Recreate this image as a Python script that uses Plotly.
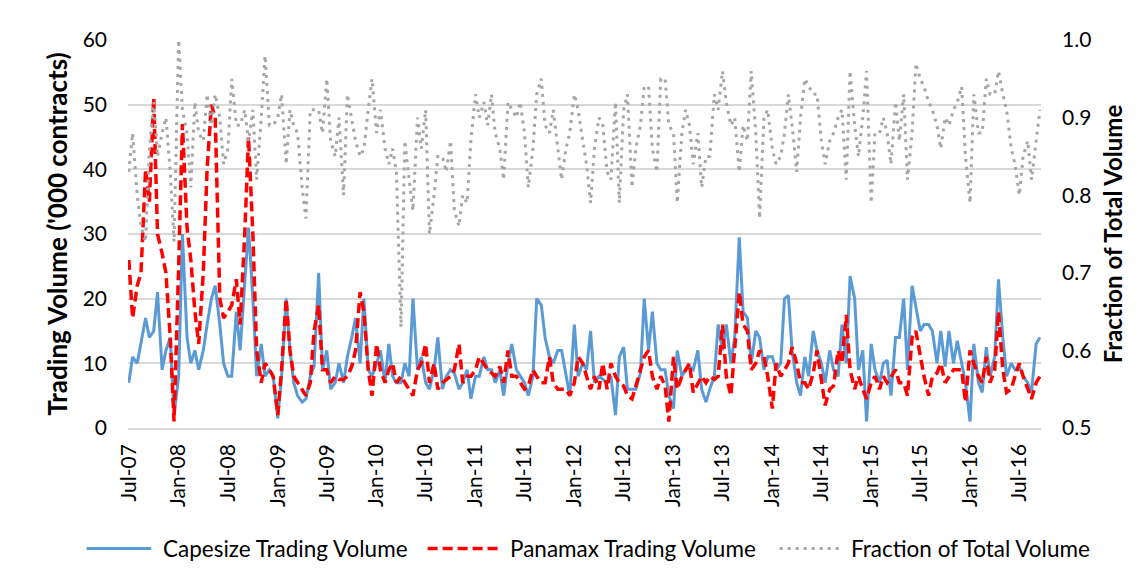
import pandas as pd
import plotly.graph_objects as go

# Semi-monthly observation dates, Jul 2007 - Sep 2016
dates = pd.date_range("2007-07-01", periods=222, freq="SMS")

capesize = [
    7, 11, 10, 13, 17, 14, 15, 21, 9, 12, 14, 2, 8, 30, 14, 10, 12, 9, 12, 16,
    20, 22, 16, 10, 8, 8, 18, 12, 22, 31, 20, 8, 13, 8, 9, 8, 1.5, 8, 20, 12,
    7, 5, 4, 4.5, 8, 9.5, 24, 9, 12, 6, 7, 10, 7, 11, 14, 17, 10, 20, 9, 8,
    10, 12, 7, 13, 8, 7, 7, 10, 8, 20, 9, 11, 7, 6, 9, 14, 6, 8, 9, 8.5,
    6, 7, 9, 4.5, 8, 8, 11, 9, 9, 7, 9, 5, 10, 13, 9, 8, 7, 5, 8, 20,
    19, 14, 11, 10, 12, 12, 8, 5, 16, 8, 10, 9, 15, 7, 8, 7.5, 7, 8, 2, 11,
    12.5, 6, 6, 6, 8.5, 20, 12, 18, 10, 9, 9, 5, 3, 12, 8, 9, 9.5, 9, 12, 6,
    4, 6, 8, 16, 12, 16, 10, 14, 29.5, 18, 17, 10, 15, 14, 9, 11, 11, 9, 10, 20,
    20.5, 12, 7, 5, 11, 8, 15, 12, 10, 7, 12, 9, 8, 16, 10, 23.5, 20, 9, 12, 1,
    13, 9, 7, 10, 10.5, 5, 14, 14, 20, 9, 22, 18.5, 15, 16, 16, 15, 10, 15, 9.5, 15,
    10, 13.5, 10, 7, 1, 13, 7, 5.5, 12.5, 8, 11, 23, 14, 8, 10, 9, 9.5, 8, 7, 5.5,
    13, 14,
]

panamax = [
    26, 17, 22, 24, 40, 35, 51, 30, 27, 24, 14, 1, 25, 47, 31, 26, 18, 13, 24, 40,
    50, 48, 20, 17, 18, 19, 23, 16, 30, 45, 30, 12, 7, 10, 9, 8, 2, 9, 20, 12,
    8, 7, 6, 5, 7, 15, 19, 9, 9, 7, 8, 7.5, 7.5, 8, 9.5, 12, 21, 18, 9, 5,
    13, 9, 7, 9, 10, 7, 8, 7, 6, 5, 9, 10, 13, 7, 10, 6, 7, 7.5, 8, 9,
    13, 7, 8, 8, 9, 11, 10, 9, 8.5, 8, 9.5, 7, 12, 8, 8, 7, 6, 6.5, 9, 8,
    7, 7, 11, 7, 6, 6, 6, 5, 7, 11, 10, 8, 6, 8, 6, 10, 6, 10, 8, 7,
    6.5, 5, 4.5, 6.5, 9, 11, 12, 8, 6, 8, 6.5, 1, 11, 6, 8, 9, 10, 5.5, 7, 8,
    7, 8, 7.5, 8, 16, 8, 5, 12, 21, 16, 15, 9, 10, 12, 11, 8, 3, 10, 8, 9,
    10, 12.5, 10, 7, 7, 6, 8.5, 12, 7, 3.5, 6, 6.5, 12, 10, 17.5, 9, 6, 8, 6, 4.5,
    7, 8, 6, 8, 7, 8, 9, 7, 7, 5, 14, 15, 11, 8, 5, 8, 8.5, 10, 7, 8,
    9, 9, 9, 4, 12, 10, 8, 7, 11, 7, 9, 18, 9, 5.5, 6, 8, 10, 8, 6, 4.5,
    7, 8,
]

fraction = [
    0.83, 0.88, 0.80, 0.76, 0.74, 0.86, 0.92, 0.85, 0.88, 0.90, 0.83, 0.74, 1.00, 0.91, 0.88, 0.81, 0.92, 0.88, 0.87, 0.93,
    0.89, 0.93, 0.90, 0.84, 0.86, 0.95, 0.89, 0.89, 0.91, 0.87, 0.91, 0.82, 0.90, 0.98, 0.89, 0.89, 0.90, 0.93, 0.84, 0.91,
    0.89, 0.88, 0.81, 0.77, 0.91, 0.91, 0.91, 0.88, 0.95, 0.87, 0.85, 0.90, 0.80, 0.93, 0.90, 0.87, 0.85, 0.86, 0.91, 0.95,
    0.88, 0.91, 0.86, 0.84, 0.86, 0.83, 0.63, 0.87, 0.82, 0.78, 0.90, 0.86, 0.91, 0.75, 0.80, 0.85, 0.85, 0.83, 0.87, 0.78,
    0.76, 0.80, 0.79, 0.87, 0.93, 0.90, 0.92, 0.89, 0.93, 0.88, 0.86, 0.82, 0.92, 0.91, 0.90, 0.92, 0.88, 0.81, 0.86, 0.93,
    0.95, 0.89, 0.88, 0.91, 0.86, 0.82, 0.86, 0.88, 0.93, 0.91, 0.87, 0.84, 0.79, 0.86, 0.90, 0.89, 0.83, 0.82, 0.92, 0.79,
    0.91, 0.93, 0.81, 0.86, 0.89, 0.94, 0.94, 0.86, 0.83, 0.95, 0.95, 0.89, 0.88, 0.79, 0.88, 0.91, 0.89, 0.84, 0.88, 0.81,
    0.85, 0.85, 0.93, 0.91, 0.96, 0.92, 0.89, 0.90, 0.83, 0.89, 0.87, 0.96, 0.88, 0.77, 0.90, 0.91, 0.86, 0.84, 0.85, 0.88,
    0.93, 0.89, 0.83, 0.90, 0.95, 0.94, 0.93, 0.93, 0.87, 0.84, 0.87, 0.88, 0.90, 0.91, 0.82, 0.96, 0.89, 0.85, 0.90, 0.96,
    0.79, 0.88, 0.88, 0.90, 0.88, 0.84, 0.92, 0.87, 0.93, 0.82, 0.88, 0.97, 0.95, 0.94, 0.92, 0.91, 0.89, 0.86, 0.90, 0.89,
    0.91, 0.92, 0.94, 0.85, 0.79, 0.93, 0.88, 0.88, 0.95, 0.93, 0.93, 0.96, 0.93, 0.91, 0.86, 0.84, 0.80, 0.85, 0.87, 0.82,
    0.87, 0.91,
]

names = ["Capesize Trading Volume", "Panamax Trading Volume", "Fraction of Total Volume"]
colors = ["#5b9bd5", "#ff0000", "#a6a6a6"]
FONT = "Lato"

fig = go.Figure()
fig.add_trace(go.Scatter(x=dates, y=capesize, mode="lines", name=names[0],
                         line=dict(color=colors[0], width=3), showlegend=False))
fig.add_trace(go.Scatter(x=dates, y=panamax, mode="lines", name=names[1],
                         line=dict(color=colors[1], width=3.5, dash="10px,5px"), showlegend=False))
fig.add_trace(go.Scatter(x=dates, y=fraction, mode="lines", name=names[2], yaxis="y2",
                         line=dict(color=colors[2], width=3, dash="3px,5px"), showlegend=False))

# Page-pixel helpers (plot area spans x 128..1033, y 40..420 on the page)
W_PLOT, H_PLOT, L, B = 905, 380, 128, 420
def px_x(p):
    return (p - L) / W_PLOT
def px_y(p):
    return (B - p) / H_PLOT

legend_items = [
    (87, 157, 161, dict(color=colors[0], width=3)),
    (425, 505, 505, dict(color=colors[1], width=3.5, dash="10px,5px")),
    (774, 843, 843, dict(color=colors[2], width=3, dash="3px,5px")),
]
ly = 538
for (x0, x1, tx, ln), nm in zip(legend_items, names):
    fig.add_shape(type="line", xref="paper", yref="paper",
                  x0=px_x(x0), x1=px_x(x1 - 6), y0=px_y(ly), y1=px_y(ly), line=ln)
    fig.add_annotation(text=nm, xref="paper", yref="paper", x=px_x(tx), y=px_y(ly),
                       xanchor="left", yanchor="middle", showarrow=False,
                       font=dict(family=FONT, size=22.5, color="#000000"))

# Chart-area border
fig.add_shape(type="rect", xref="paper", yref="paper",
              x0=px_x(7), x1=px_x(1140), y0=px_y(566), y1=px_y(4),
              line=dict(color="#d9d9d9", width=1.5))

# the page body adds an 8px offset, so the figure is 8px smaller than the window
fig.update_layout(
    width=1138, height=562,
    margin=dict(l=120, r=105, t=32, b=142, autoexpand=False),
    paper_bgcolor="white", plot_bgcolor="white",
    font=dict(family=FONT, size=21, color="#000000"),
    xaxis=dict(
        type="date",
        range=["2007-06-28", "2016-09-19"],
        tick0="2007-07-01", dtick="M6", tickformat="%b-%y",
        tickangle=-90, showgrid=False, zeroline=False,
        showline=True, linecolor="#d9d9d9", linewidth=1.5,
        ticks="", ticklabelstandoff=6,
        tickfont=dict(family=FONT, size=21),
    ),
    yaxis=dict(
        range=[0, 60], dtick=10, showgrid=True, gridcolor="#d9d9d9", gridwidth=1.5,
        zeroline=False, showline=False, ticks="", ticklabelstandoff=20,
        tickfont=dict(family=FONT, size=21),
        title=dict(text="<b>Trading Volume ('000 contracts)</b>", standoff=7,
                   font=dict(family=FONT, size=26)),
    ),
    yaxis2=dict(
        range=[0.5, 1.0], dtick=0.1, tickformat=".1f", overlaying="y", side="right",
        showgrid=False, zeroline=False, showline=False, ticks="", ticklabelstandoff=20,
        tickfont=dict(family=FONT, size=21),
        title=dict(text="<b>Fraction of Total Volume</b>", standoff=14,
                   font=dict(family=FONT, size=24)),
    ),
)

fig.write_html("out.html")
